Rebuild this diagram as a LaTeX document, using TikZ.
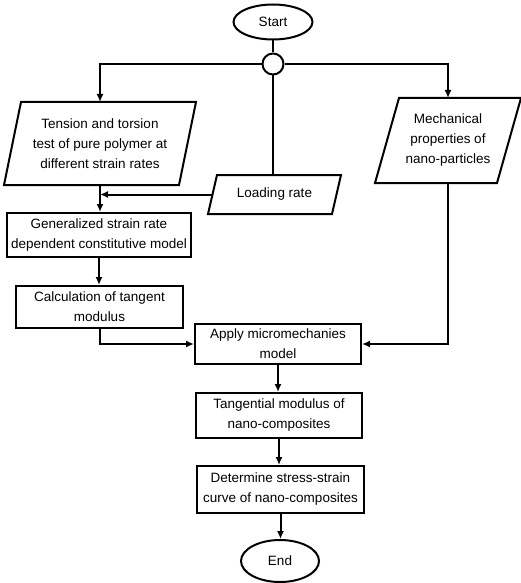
\documentclass[tikz,border=0pt]{standalone}
\usepackage{fontspec}
\setmainfont{Liberation Sans}
\usepackage{tikz}
\usetikzlibrary{shapes,arrows.meta}
\usetikzlibrary{calc}

\begin{document}
\begin{tikzpicture}[x=1pt, y=-1pt, >={Latex[length=8pt,width=7pt]}, line width=2pt,
	txt/.style={font=\fontsize{13.5}{20}\selectfont, align=center, inner sep=0pt},
	terminal/.style={txt, draw, ellipse},
	process/.style={txt, draw, rectangle},
	iobox/.style={txt, rectangle}]
	\useasboundingbox (0,0) rectangle (520,583);
	
	\node[terminal, minimum width=79, minimum height=35] (start) at (273,22) {Start};
	\node[draw, circle, minimum size=21, inner sep=0pt] (jn) at (273,64) {};
	
	\node[iobox, minimum width=173, minimum height=81] (tension) at (100,143.5) {Tension and torsion\\test of pure polymer at\\different strain rates};
	\node[iobox, minimum width=120, minimum height=83] (mech) at (448,140.5) {Mechanical\\properties of\\nano-particles};
	\node[iobox, minimum width=122, minimum height=37] (loading) at (274.5,194.5) {Loading rate};
	
	\node[process, minimum width=184, minimum height=44] (gen) at (99,235) {Generalized strain rate\\dependent constitutive model};
	\node[process, minimum width=167, minimum height=42] (calc) at (99.5,307) {Calculation of tangent\\modulus};
	\node[process, minimum width=166, minimum height=40] (apply) at (278,344) {Apply micromechanies\\model};
	\node[process, minimum width=166, minimum height=45] (tang) at (279,415.5) {Tangential modulus of\\nano-composites};
	\node[process, minimum width=167, minimum height=47] (det) at (280.5,489.5) {Determine stress-strain\\curve of nano-composites};
	\node[terminal, minimum width=78, minimum height=42] (end) at (280,561) {End};
	
	% slanted input boxes
	\foreach \n/\s in {tension/8.5, mech/12, loading/4.5}
		\draw ($(\n.north west)+(\s,0)$) -- ($(\n.north east)+(\s,0)$) -- ($(\n.south east)-(\s,0)$) -- ($(\n.south west)-(\s,0)$) -- cycle;
	
	\draw (start) -- (jn);
	\draw[->] (jn.west) -| (tension.north);
	\draw[->] (jn.east) -| (mech.north);
	\draw (jn.south) -- (jn.south |- loading.north);
	\draw[->] (loading.west) -- (loading.west -| tension.south);
	\draw[->] (tension.south) -- (tension.south |- gen.north);
	\draw[->] (gen) -- (gen.south |- calc.north);
	\draw[->] (calc.south) |- (apply.west);
	\draw[->] (mech.south) |- (apply.east);
	\draw[->] (apply) -- (apply.south |- tang.north);
	\draw[->] (tang) -- (tang.south |- det.north);
	\draw[->] (det) -- (det.south |- end.north);
\end{tikzpicture}
\end{document}
